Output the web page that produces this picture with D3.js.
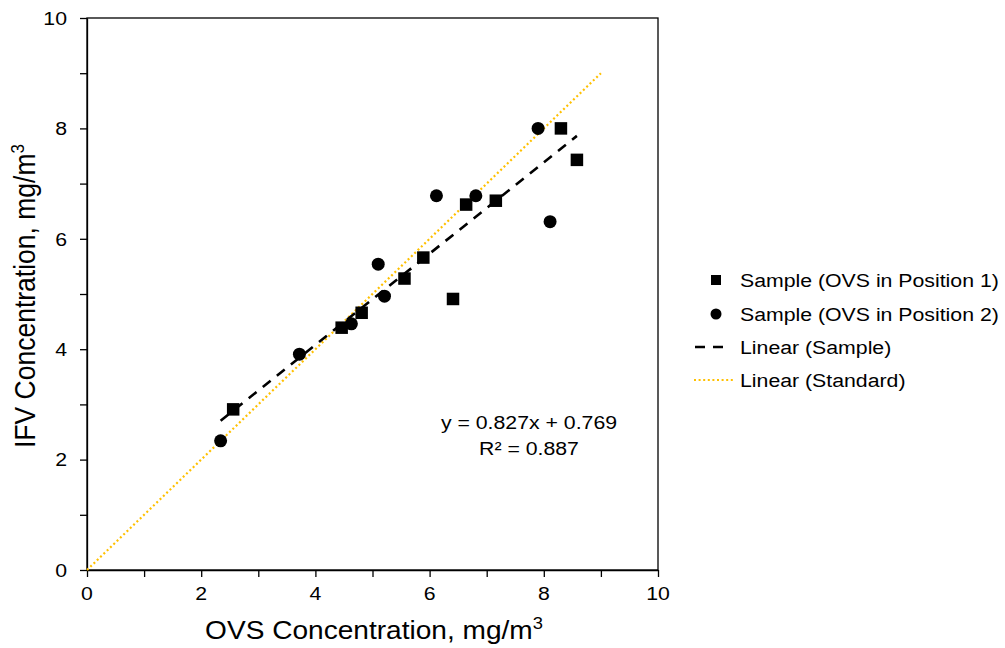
<!DOCTYPE html>
<html>
<head>
<meta charset="utf-8">
<script src="https://cdn.jsdelivr.net/npm/d3@7"></script>
<style>
  body { margin: 0; background: #fff; }
  svg text { font-family: "Liberation Sans", Arial, sans-serif; fill: #000; }
  .axis path, .axis line { stroke: #000; stroke-width: 1.3; }
</style>
</head>
<body>
<svg id="chart" width="1005" height="648"></svg>
<script>
// data
const pos1X = [2.56, 4.46, 4.81, 5.56, 5.89, 6.41, 6.64, 7.16, 8.30, 8.58];
const pos1Y = [2.91, 4.39, 4.66, 5.28, 5.66, 4.91, 6.62, 6.69, 8.00, 7.43];
const pos2X = [2.34, 3.72, 4.63, 5.10, 5.21, 6.12, 6.81, 7.90, 8.11];
const pos2Y = [2.34, 3.91, 4.46, 5.54, 4.96, 6.78, 6.78, 8.00, 6.31];
const fitSlope = 0.827, fitIntercept = 0.769, fitR2 = 0.887;
const standardEnds = [0, 9];
const majorTicks = [0, 2, 4, 6, 8, 10];
const allTicks = [0, 1, 2, 3, 4, 5, 6, 7, 8, 9, 10];
const legendItems = ["Sample (OVS in Position 1)", "Sample (OVS in Position 2)", "Linear (Sample)", "Linear (Standard)"];

const svg = d3.select("#chart");
const plotL = 87, plotR = 658, plotT = 18, plotB = 570;
const x = d3.scaleLinear().domain([0, 10]).range([plotL, plotR]);
const y = d3.scaleLinear().domain([0, 10]).range([plotB, plotT]);

// the source picture's lettering is a bit wider than it is tall
const sx = 1.12, titleSx = 1.08;

// stretched text helper: anchor point stays put
function label(px, py, str, size, anchor, stretch, rot) {
  const g = svg.append("g")
    .attr("transform", `translate(${px},${py}) scale(${stretch},1)` + (rot ? ` rotate(${rot})` : ""));
  return g.append("text").attr("text-anchor", anchor).style("font-size", size + "px").text(str);
}

// frame
svg.append("rect").attr("x", plotL).attr("y", plotT)
  .attr("width", plotR - plotL).attr("height", plotB - plotT)
  .attr("fill", "none").attr("stroke", "#000").attr("stroke-width", 1.3);

const xAxis = d3.axisBottom(x).tickValues(allTicks).tickSize(7).tickSizeOuter(0).tickFormat("");
const yAxis = d3.axisLeft(y).tickValues(allTicks).tickSize(7).tickSizeOuter(0).tickFormat("");
svg.append("g").attr("class", "axis").attr("transform", `translate(0,${plotB})`).call(xAxis);
svg.append("g").attr("class", "axis").attr("transform", `translate(${plotL},0)`).call(yAxis);

majorTicks.forEach(t => {
  label(x(t), 600, t, 19, "middle", sx);
  label(67, y(t) + 6.8, t, 19, "end", sx);
});

// axis titles
const xt = label(374, 639, "OVS Concentration, mg/m", 26, "middle", titleSx);
xt.append("tspan").attr("dy", -10).style("font-size", "17px").text("3");
const yt = label(35, 296, "IFV Concentration, mg/m", 26.5, "middle", titleSx, -90);
yt.append("tspan").attr("dy", -10).style("font-size", "17px").text("3");

// standard line y = x
svg.append("line")
  .attr("x1", x(standardEnds[0])).attr("y1", y(standardEnds[0]))
  .attr("x2", x(standardEnds[1])).attr("y2", y(standardEnds[1]))
  .attr("stroke", "#FFC000").attr("stroke-width", 2.2).attr("stroke-dasharray", "2,2.6");

// sample fit, over the span of the data
const allX = pos1X.concat(pos2X);
const fx0 = d3.min(allX), fx1 = d3.max(allX);
svg.append("line")
  .attr("x1", x(fx0)).attr("y1", y(fitSlope * fx0 + fitIntercept))
  .attr("x2", x(fx1)).attr("y2", y(fitSlope * fx1 + fitIntercept))
  .attr("stroke", "#000").attr("stroke-width", 2.6).attr("stroke-dasharray", "10,8");

// markers
const sq = 12.5;
svg.append("g").selectAll("rect").data(d3.zip(pos1X, pos1Y)).join("rect")
  .attr("x", d => x(d[0]) - sq / 2).attr("y", d => y(d[1]) - sq / 2)
  .attr("width", sq).attr("height", sq).attr("fill", "#000");
svg.append("g").selectAll("circle").data(d3.zip(pos2X, pos2Y)).join("circle")
  .attr("cx", d => x(d[0])).attr("cy", d => y(d[1])).attr("r", 6.5).attr("fill", "#000");

// equation
label(529, 429, `y = ${fitSlope}x + ${fitIntercept}`, 19, "middle", sx);
label(529, 455, `R² = ${fitR2}`, 19, "middle", sx);

// legend
const legY = [280, 314, 347, 380];
const leg = svg.append("g");
leg.append("rect").attr("x", 711).attr("y", legY[0] - 5).attr("width", 10).attr("height", 10);
leg.append("circle").attr("cx", 716).attr("cy", legY[1]).attr("r", 5.5);
leg.append("line").attr("x1", 695).attr("x2", 728).attr("y1", legY[2]).attr("y2", legY[2])
  .attr("stroke", "#000").attr("stroke-width", 2.6).attr("stroke-dasharray", "10,8");
leg.append("line").attr("x1", 694).attr("x2", 733).attr("y1", legY[3]).attr("y2", legY[3])
  .attr("stroke", "#FFC000").attr("stroke-width", 2.2).attr("stroke-dasharray", "2,2.6");
legendItems.forEach((d, i) => label(740, legY[i] + 6.8, d, 19, "start", sx));
</script>
</body>
</html>
